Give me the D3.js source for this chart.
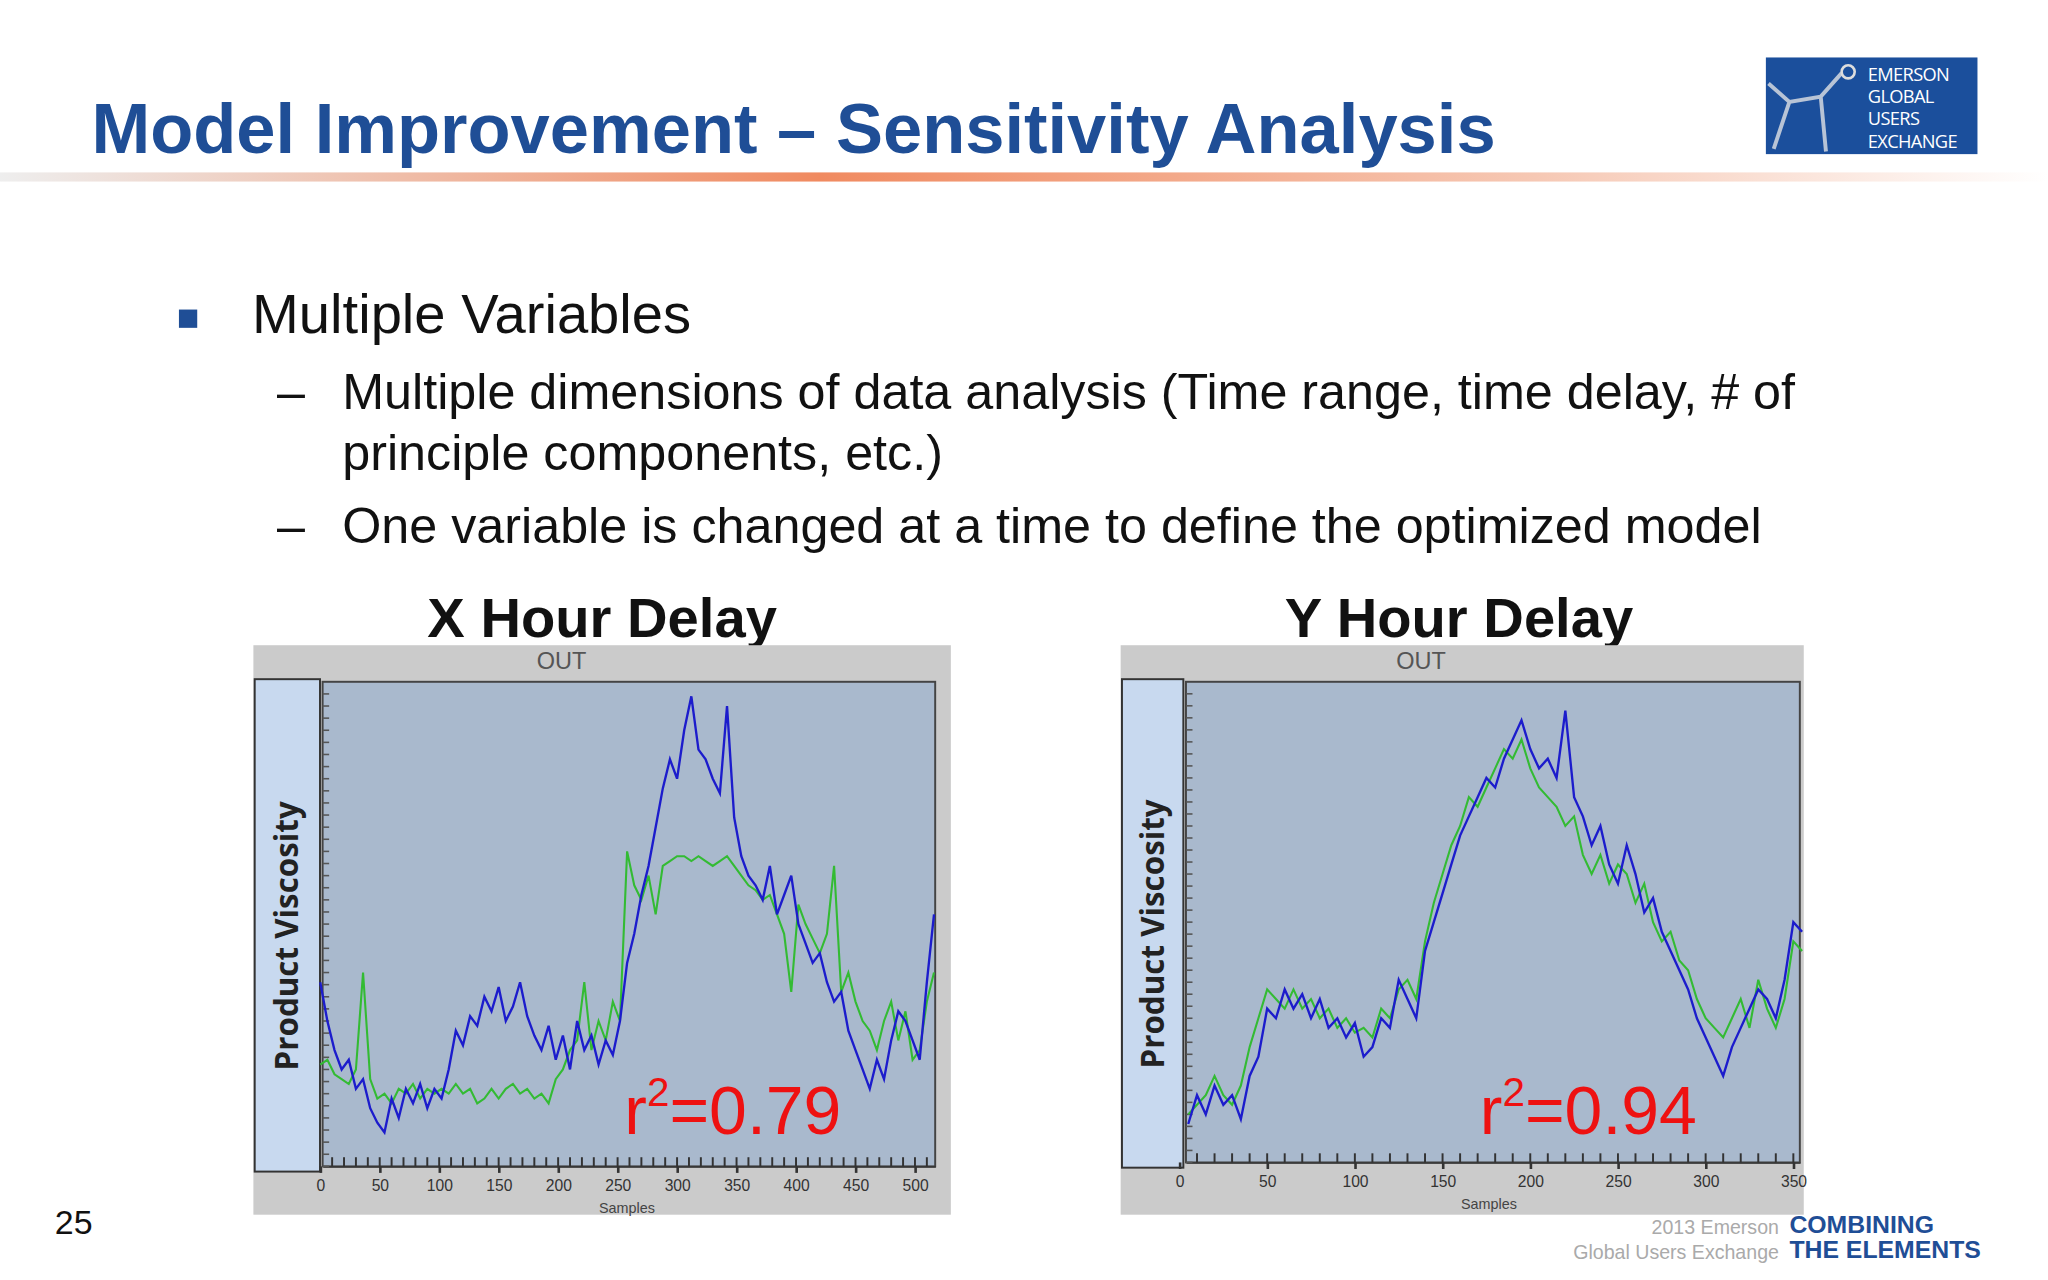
<!DOCTYPE html>
<html>
<head>
<meta charset="utf-8">
<script src="https://cdn.jsdelivr.net/npm/d3@7"></script>
<style>
  body { margin: 0; background: #fff; }
  svg { display: block; font-family: 'Liberation Sans', Arial, sans-serif; }
</style>
</head>
<body>
<svg id="slide"></svg>
<script>
// DATA
const bulletMain = 'Multiple Variables'
const bulletSubs = [
  ['Multiple dimensions of data analysis (Time range, time delay, # of', 'principle components, etc.)'],
  ['One variable is changed at a time to define the optimized model']
]

// chart 1: X hour delay, sampled every 6 samples from 0
const xStep = 6
const xMeasured = [38,30,24,20,22,16,18,12,9,7,14,10,16,13,17,12,16,14,20,28,25,31,29,35,32,37,30,33,38,31,27,24,29,22,27,20,30,24,27,21,26,23,30,42,48,56,62,70,78,84,80,90,97,86,84,80,77,95,72,64,60,58,55,62,52,56,60,50,46,42,44,38,34,36,28,24,20,16,22,18,26,32,30,26,22,38,52]
const xPredicted = [21,22,19,18,17,20,40,18,14,15,13,16,15,17,14,16,15,16,15,17,15,16,13,14,16,14,16,17,15,16,14,15,13,18,20,24,26,38,24,30,26,34,30,65,58,55,60,52,62,63,64,64,63,64,63,62,63,64,62,60,58,57,55,56,52,48,36,54,50,47,44,48,62,36,40,34,30,28,24,30,34,26,32,22,24,34,40]
const xTicks = [0, 50, 100, 150, 200, 250, 300, 350, 400, 450, 500]

// chart 2: Y hour delay, sampled every 5 samples from 5
const yStart = 5, yStep = 5
const yMeasured = [8,14,10,16,12,14,9,18,22,32,30,36,32,35,30,34,28,30,26,29,22,24,30,28,38,34,30,44,50,56,62,68,72,76,80,78,84,88,92,86,82,84,80,94,76,72,66,70,62,58,66,60,52,55,48,44,40,36,30,26,22,18,24,28,32,36,34,30,38,50,48]
const yPredicted = [10,12,14,18,14,12,16,24,30,36,34,32,36,32,34,30,32,28,30,27,28,26,32,30,36,38,34,46,54,60,66,70,76,74,78,82,86,84,88,82,78,76,74,70,72,64,60,64,58,62,60,54,58,50,46,48,42,40,34,30,28,26,30,34,28,38,32,28,34,46,44]
const yTicks = [0, 50, 100, 150, 200, 250, 300, 350]

const svg = d3.select('#slide')
  .attr('width', 2048).attr('height', 1280)
  .attr('viewBox', '0 0 1568 980')

// HEADER
const defs = svg.append('defs')
const grad = defs.append('linearGradient').attr('id', 'rule')
grad.append('stop').attr('offset', '0%').attr('stop-color', '#eeeeee')
grad.append('stop').attr('offset', '40%').attr('stop-color', '#f08a60')
grad.append('stop').attr('offset', '75%').attr('stop-color', '#f6c8b4')
grad.append('stop').attr('offset', '100%').attr('stop-color', '#ffffff')
svg.append('rect').attr('x', 0).attr('y', 132).attr('width', 1568).attr('height', 7).attr('fill', 'url(#rule)')

svg.append('text').attr('x', 70).attr('y', 117)
  .attr('font-size', 54).attr('font-weight', 'bold').attr('fill', '#1f4e96')
  .text('Model Improvement – Sensitivity Analysis')

// logo
const logo = svg.append('g').attr('transform', 'translate(1352,44)')
logo.append('rect').attr('width', 162).attr('height', 74).attr('fill', '#1b4f9c')
logo.append('path').attr('d', 'M2,20 L18,34 L42,30 L58,12 M42,30 L46,72 M18,34 L6,70')
  .attr('stroke', '#b8c4d6').attr('stroke-width', 3).attr('fill', 'none')
logo.append('circle').attr('cx', 63).attr('cy', 11).attr('r', 5).attr('fill', 'none').attr('stroke', '#ddd').attr('stroke-width', 2)
;['EMERSON', 'GLOBAL', 'USERS', 'EXCHANGE'].forEach((t, i) => {
  logo.append('text').attr('x', 78).attr('y', 18 + i * 17)
    .attr('font-size', 14).attr('fill', '#fff').attr('font-family', 'Open Sans, sans-serif')
    .attr('letter-spacing', -0.5).text(t)
})

// BULLETS
svg.append('rect').attr('x', 137).attr('y', 237).attr('width', 14).attr('height', 14).attr('fill', '#1f4e96')
svg.append('text').attr('x', 193).attr('y', 255).attr('font-size', 43).attr('fill', '#111').text(bulletMain)
let lineY = 313
bulletSubs.forEach(sub => {
  svg.append('text').attr('x', 212).attr('y', lineY).attr('font-size', 38.5).attr('fill', '#111').text('–')
  sub.forEach(line => {
    svg.append('text').attr('x', 262).attr('y', lineY).attr('font-size', 38.5).attr('fill', '#111').text(line)
    lineY += 47
  })
  lineY += 9
})

// CHART
function drawChart(cfg) {
  const g = svg.append('g')
  g.append('text').attr('x', cfg.titleX).attr('y', 488).attr('text-anchor', 'middle')
    .attr('font-size', 43).attr('font-weight', 'bold').attr('fill', '#111').text(cfg.title)

  g.append('rect').attr('x', cfg.panel[0]).attr('y', 494).attr('width', cfg.panel[1] - cfg.panel[0]).attr('height', 436).attr('fill', '#cbcbcb')
  g.append('text').attr('x', cfg.outX).attr('y', 512).attr('text-anchor', 'middle')
    .attr('font-size', 18).attr('fill', '#555').text('OUT')

  // left label strip
  g.append('rect').attr('x', cfg.panel[0] + 1).attr('y', 520).attr('width', cfg.plot[0] - cfg.panel[0] - 3).attr('height', cfg.plot[3] - 520 + 4)
    .attr('fill', '#c8d9ef').attr('stroke', '#333').attr('stroke-width', 1.5)
  const lx = (cfg.panel[0] + cfg.plot[0]) / 2 + 8
  g.append('text').attr('transform', `translate(${lx},${(520 + cfg.plot[3]) / 2 + 10}) rotate(-90)`)
    .attr('text-anchor', 'middle').attr('font-size', 24).attr('font-weight', 'bold')
    .attr('font-family', 'Open Sans, sans-serif').attr('fill', '#222').text('Product Viscosity')

  const [x0, y0, x1, y1] = cfg.plot
  g.append('rect').attr('x', x0).attr('y', y0).attr('width', x1 - x0).attr('height', y1 - y0)
    .attr('fill', '#a9b9cd').attr('stroke', '#444').attr('stroke-width', 1.5)

  const x = d3.scaleLinear().domain(cfg.xDomain).range([x0, x1])
  const y = d3.scaleLinear().domain([0, 100]).range([y1, y0])

  const xAxis = d3.axisBottom(x).tickValues(cfg.ticks).tickSize(5).tickSizeOuter(0)
  const ax = g.append('g').attr('transform', `translate(0,${y1})`).call(xAxis)
  ax.select('.domain').attr('stroke', '#333')
  ax.selectAll('.tick line').attr('stroke', '#333').attr('stroke-width', 2)
  ax.selectAll('.tick text').attr('font-size', 12).attr('fill', '#333').attr('dy', '0.9em')
  const minor = d3.range(0, cfg.xDomain[1], 10).filter(v => v >= cfg.xDomain[0])
  g.append('g').selectAll('line').data(minor).enter().append('line')
    .attr('x1', d => x(d)).attr('x2', d => x(d)).attr('y1', y1 - 7).attr('y2', y1)
    .attr('stroke', '#333').attr('stroke-width', 1.5)
  g.append('g').selectAll('line').data(d3.range(0, 100, 2.5)).enter().append('line')
    .attr('x1', x0).attr('x2', x0 + 5)
    .attr('y1', d => y(d)).attr('y2', d => y(d)).attr('stroke', '#555').attr('stroke-width', 1.2)
  g.append('text').attr('x', cfg.samplesX).attr('y', y1 + 36).attr('text-anchor', 'middle')
    .attr('font-size', 11).attr('fill', '#444').text('Samples')

  const line = d3.line().x(d => x(d[0])).y(d => y(d[1]))
  const series = (arr) => arr.map((v, i) => [cfg.start + i * cfg.step, v])
  g.append('path').datum(series(cfg.pred)).attr('d', line)
    .attr('fill', 'none').attr('stroke', '#33bb33').attr('stroke-width', 1.6)
  g.append('path').datum(series(cfg.meas)).attr('d', line)
    .attr('fill', 'none').attr('stroke', '#1c1ccc').attr('stroke-width', 1.8)

  const r = g.append('text').attr('x', cfg.rX).attr('y', 868).attr('font-size', 52).attr('fill', '#ee1111')
  r.append('tspan').text('r')
  r.append('tspan').attr('font-size', 31).attr('dy', -21).text('2')
  r.append('tspan').attr('dy', 21).text('=' + cfg.r2)
}

drawChart({ title: 'X Hour Delay', titleX: 461, panel: [194, 728], outX: 430, plot: [247, 522, 716, 893],
  xDomain: [2, 517], ticks: xTicks, start: 0, step: xStep, meas: xMeasured, pred: xPredicted,
  rX: 478, r2: '0.79', samplesX: 480 })
drawChart({ title: 'Y Hour Delay', titleX: 1117, panel: [858, 1381], outX: 1088, plot: [908, 522, 1378, 890],
  xDomain: [3.7, 353.7], ticks: yTicks, start: yStart, step: yStep, meas: yMeasured, pred: yPredicted,
  rX: 1133, r2: '0.94', samplesX: 1140 })

// FOOTER
svg.append('text').attr('x', 42).attr('y', 945).attr('font-size', 26).attr('fill', '#111').text('25')
svg.append('text').attr('x', 1362).attr('y', 945).attr('text-anchor', 'end').attr('font-size', 15).attr('fill', '#aaa').text('2013 Emerson')
svg.append('text').attr('x', 1362).attr('y', 964).attr('text-anchor', 'end').attr('font-size', 15).attr('fill', '#aaa').text('Global Users Exchange')
svg.append('text').attr('x', 1370).attr('y', 944).attr('font-size', 19).attr('font-weight', 'bold').attr('fill', '#1f4e96').text('COMBINING')
svg.append('text').attr('x', 1370).attr('y', 963).attr('font-size', 19).attr('font-weight', 'bold').attr('fill', '#1f4e96').text('THE ELEMENTS')
</script>
</body>
</html>
